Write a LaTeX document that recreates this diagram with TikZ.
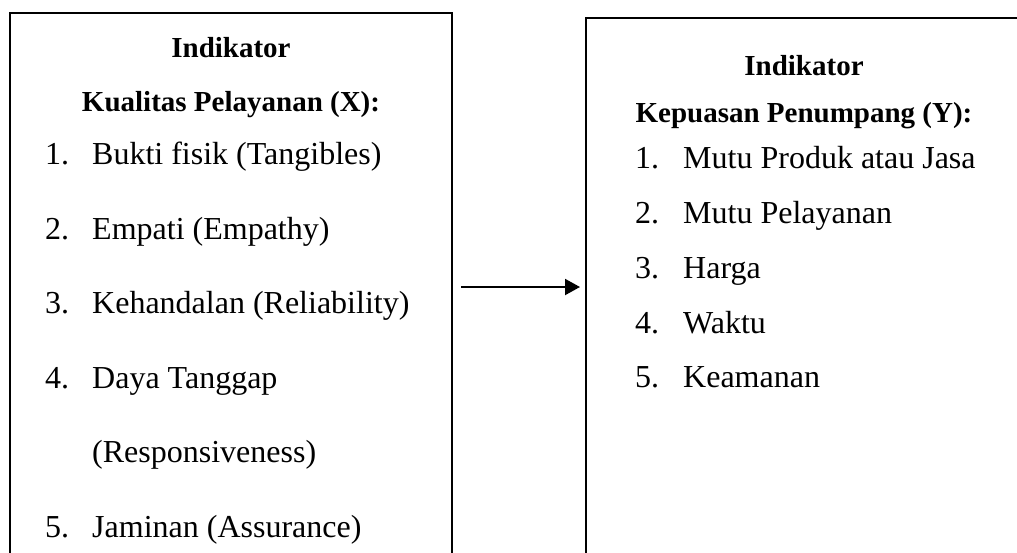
\documentclass[tikz,border=0pt]{standalone}
\usepackage{fontspec}
\setmainfont{Liberation Serif}
\usetikzlibrary{arrows.meta}

\begin{document}
\begin{tikzpicture}[x=1pt,y=-1pt]
\tikzset{mainline/.style={line width=2.2pt,color=black}};
\tikzset{headtext/.style={anchor=base,inner sep=0pt,font=\fontsize{29}{35}\selectfont\bfseries}};
\tikzset{itemtext/.style={anchor=base west,inner sep=0pt,font=\fontsize{32}{38}\selectfont}};

\pgfmathsetmacro{\xhi}{1017};
\pgfmathsetmacro{\yhi}{552};
\pgfmathsetmacro{\xnum}{45};
\pgfmathsetmacro{\xtxt}{92};
\pgfmathsetmacro{\ynum}{635};
\pgfmathsetmacro{\ytxt}{683};

\useasboundingbox (0,0) rectangle (\xhi,\yhi);
\clip (0,0) rectangle (\xhi,\yhi);

\coordinate (X_tl) at (10,13);
\coordinate (X_br) at (452,600);
\coordinate (Y_tl) at (586,18);
\coordinate (Y_br) at (1060,600);

\draw [mainline] (X_tl) rectangle (X_br);
\draw [mainline] (Y_tl) rectangle (Y_br);

% left box: kualitas pelayanan
\node [headtext] (X_head) at (231,57) {Indikator};
\node [headtext] (X_name) at (231,111) {Kualitas Pelayanan (X):};
\node [itemtext] (X_n1) at (\xnum,164) {1.};
\node [itemtext] (X_1) at (\xtxt,164) {Bukti fisik (Tangibles)};
\node [itemtext] (X_n2) at (\xnum,239) {2.};
\node [itemtext] (X_2) at (\xtxt,239) {Empati (Empathy)};
\node [itemtext] (X_n3) at (\xnum,313) {3.};
\node [itemtext] (X_3) at (\xtxt,313) {Kehandalan (Reliability)};
\node [itemtext] (X_n4) at (\xnum,388) {4.};
\node [itemtext] (X_4) at (\xtxt,388) {Daya Tanggap};
\node [itemtext] (X_4b) at (\xtxt,462) {(Responsiveness)};
\node [itemtext] (X_n5) at (\xnum,537) {5.};
\node [itemtext] (X_5) at (\xtxt,537) {Jaminan (Assurance)};

% right box: kepuasan penumpang
\node [headtext] (Y_head) at (804,75) {Indikator};
\node [headtext] (Y_name) at (804,122) {Kepuasan Penumpang (Y):};
\node [itemtext] (Y_n1) at (\ynum,168) {1.};
\node [itemtext] (Y_1) at (\ytxt,168) {Mutu Produk atau Jasa};
\node [itemtext] (Y_n2) at (\ynum,223) {2.};
\node [itemtext] (Y_2) at (\ytxt,223) {Mutu Pelayanan};
\node [itemtext] (Y_n3) at (\ynum,278) {3.};
\node [itemtext] (Y_3) at (\ytxt,278) {Harga};
\node [itemtext] (Y_n4) at (\ynum,333) {4.};
\node [itemtext] (Y_4) at (\ytxt,333) {Waktu};
\node [itemtext] (Y_n5) at (\ynum,387) {5.};
\node [itemtext] (Y_5) at (\ytxt,387) {Keamanan};

\coordinate (arrow_from) at (461,287);
\coordinate (arrow_to) at (580,287);
\draw [line width=2pt,-{Triangle[length=15pt,width=16pt]}] (arrow_from) -- (arrow_to);
\end{tikzpicture}
\end{document}
